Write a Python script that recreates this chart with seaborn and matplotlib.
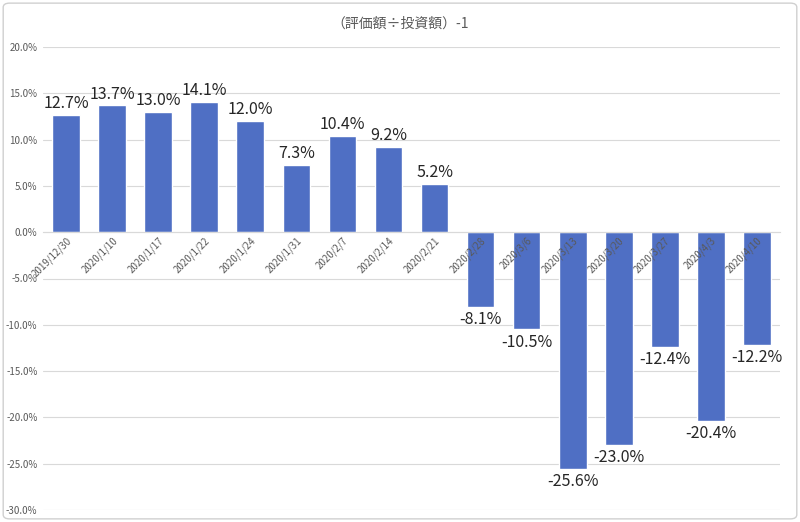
import matplotlib
matplotlib.use("Agg")
import matplotlib.pyplot as plt
import seaborn as sns
import pandas as pd
from matplotlib.patches import FancyBboxPatch
from matplotlib.ticker import FuncFormatter, MultipleLocator

dates = ["2019/12/30", "2020/1/10", "2020/1/17", "2020/1/22", "2020/1/24",
         "2020/1/31", "2020/2/7", "2020/2/14", "2020/2/21", "2020/2/28",
         "2020/3/6", "2020/3/13", "2020/3/20", "2020/3/27", "2020/4/3",
         "2020/4/10"]
ratio = [12.7, 13.7, 13.0, 14.1, 12.0, 7.3, 10.4, 9.2, 5.2,
         -8.1, -10.5, -25.6, -23.0, -12.4, -20.4, -12.2]
title = "（評価額÷投資額）-1"

df = pd.DataFrame({"date": dates, "ratio": ratio})

sns.set_style("white")
plt.rcParams["font.family"] = ["Noto Sans CJK JP", "DejaVu Sans"]

fig = plt.figure(figsize=(8, 5.22), dpi=100)
ax = fig.add_axes([43 / 800, 12 / 522, 737 / 800, 463 / 522])

sns.barplot(data=df, x="date", y="ratio", color="#4f6fc4", width=0.6,
            saturation=1, ax=ax, zorder=3)

ax.set_ylim(-30, 20)
ax.set_xlim(-0.5, len(dates) - 0.5)
ax.yaxis.set_major_locator(MultipleLocator(5))
ax.yaxis.set_major_formatter(FuncFormatter(lambda v, p: f"{v:.1f}%"))
ax.grid(axis="y", color="#d9d9d9", linewidth=0.8, zorder=0)
for s in ["top", "right", "left"]:
    ax.spines[s].set_visible(False)
ax.spines["bottom"].set_position(("data", 0))
ax.spines["bottom"].set_color("#d9d9d9")
ax.spines["bottom"].set_zorder(4)
ax.xaxis.set_zorder(5)
ax.tick_params(axis="y", length=0, labelsize=7, labelcolor="#595959", pad=4)
ax.tick_params(axis="x", length=0, labelsize=7, labelcolor="#595959", pad=2)
plt.setp(ax.get_xticklabels(), rotation=45, ha="right", rotation_mode="anchor")
ax.set_xlabel("")
ax.set_ylabel("")

for i, v in enumerate(ratio):
    if v >= 0:
        ax.annotate(f"{v:.1f}%", (i, v), xytext=(0, 2), textcoords="offset points",
                    ha="center", va="bottom", fontsize=11.5, color="#262626")
    else:
        ax.annotate(f"{v:.1f}%", (i, v), xytext=(0, -3), textcoords="offset points",
                    ha="center", va="top", fontsize=11.5, color="#262626")

fig.text(0.5, 0.955, title, ha="center", va="center", fontsize=10, color="#595959")

border = FancyBboxPatch((0.004, 0.006), 0.992, 0.988, boxstyle="round,pad=0,rounding_size=0.008",
                        transform=fig.transFigure, fill=False, edgecolor="#d0d0d0",
                        linewidth=1)
fig.patches.append(border)

fig.savefig("out.png", dpi=100)
